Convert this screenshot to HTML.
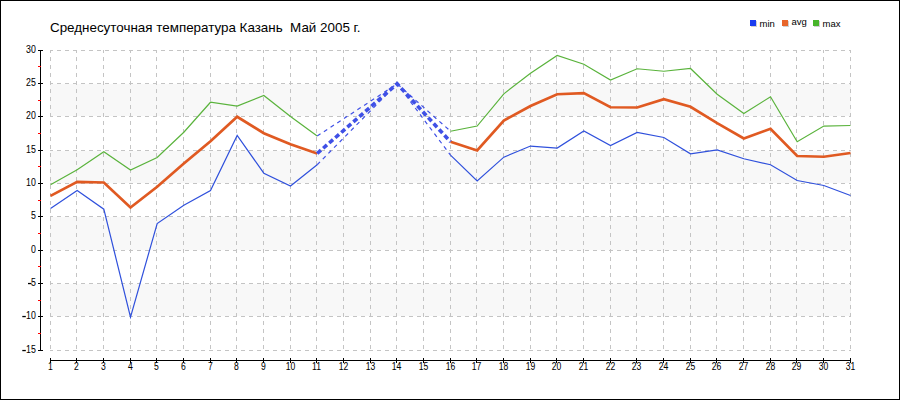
<!DOCTYPE html>
<html><head><meta charset="utf-8"><style>
html,body{margin:0;padding:0;background:#fff;width:900px;height:400px;overflow:hidden}
svg{display:block}
</style></head><body>
<svg width="900" height="400" viewBox="0 0 900 400">
<rect x="50" y="84" width="801" height="32" fill="#f8f8f8"/>
<rect x="50" y="151" width="801" height="32" fill="#f8f8f8"/>
<rect x="50" y="217" width="801" height="33" fill="#f8f8f8"/>
<rect x="50" y="284" width="801" height="32" fill="#f8f8f8"/>
<path d="M50 50.5H851 M50 83.5H851 M50 116.5H851 M50 150.5H851 M50 183.5H851 M50 216.5H851 M50 250.5H851 M50 283.5H851 M50 316.5H851 M50 350.5H851 M50.5 50V351 M76.5 50V351 M103.5 50V351 M130.5 50V351 M156.5 50V351 M183.5 50V351 M210.5 50V351 M236.5 50V351 M263.5 50V351 M290.5 50V351 M316.5 50V351 M343.5 50V351 M370.5 50V351 M396.5 50V351 M423.5 50V351 M450.5 50V351 M476.5 50V351 M503.5 50V351 M530.5 50V351 M556.5 50V351 M583.5 50V351 M610.5 50V351 M636.5 50V351 M663.5 50V351 M690.5 50V351 M716.5 50V351 M743.5 50V351 M770.5 50V351 M796.5 50V351 M823.5 50V351 M850.5 50V351" stroke="#c4c4c4" stroke-width="1" stroke-dasharray="4 4" stroke-dashoffset="1" fill="none" shape-rendering="crispEdges"/>
<path d="M40.5 50V351 M38 50.5H43 M38 83.5H43 M38 116.5H43 M38 150.5H43 M38 183.5H43 M38 216.5H43 M38 250.5H43 M38 283.5H43 M38 316.5H43 M38 350.5H43 M50 360.5H851 M50.5 358V363 M76.5 358V363 M103.5 358V363 M130.5 358V363 M156.5 358V363 M183.5 358V363 M210.5 358V363 M236.5 358V363 M263.5 358V363 M290.5 358V363 M316.5 358V363 M343.5 358V363 M370.5 358V363 M396.5 358V363 M423.5 358V363 M450.5 358V363 M476.5 358V363 M503.5 358V363 M530.5 358V363 M556.5 358V363 M583.5 358V363 M610.5 358V363 M636.5 358V363 M663.5 358V363 M690.5 358V363 M716.5 358V363 M743.5 358V363 M770.5 358V363 M796.5 358V363 M823.5 358V363 M850.5 358V363" stroke="#000" stroke-width="1" fill="none" shape-rendering="crispEdges"/>
<path d="M38 66.5H41 M38 100.5H41 M38 133.5H41 M38 166.5H41 M38 200.5H41 M38 233.5H41 M38 266.5H41 M38 300.5H41 M38 333.5H41" stroke="#f00" stroke-width="1" fill="none" shape-rendering="crispEdges"/>
<g font-family="Liberation Sans, sans-serif" font-size="10" fill="#000" stroke="#000" stroke-width="0.05"><text transform="translate(35.8,52.8) scale(0.88,1)" text-anchor="end">30</text><text transform="translate(35.8,85.8) scale(0.88,1)" text-anchor="end">25</text><text transform="translate(35.8,118.8) scale(0.88,1)" text-anchor="end">20</text><text transform="translate(35.8,152.8) scale(0.88,1)" text-anchor="end">15</text><text transform="translate(35.8,185.8) scale(0.88,1)" text-anchor="end">10</text><text transform="translate(35.8,218.8) scale(0.88,1)" text-anchor="end">5</text><text transform="translate(35.8,252.8) scale(0.88,1)" text-anchor="end">0</text><text transform="translate(35.8,285.8) scale(0.88,1)" text-anchor="end">5</text><rect x="28" y="282.9" width="3.5" height="1.3" stroke="none"/><text transform="translate(35.8,318.8) scale(0.88,1)" text-anchor="end">10</text><rect x="22.3" y="315.9" width="3.5" height="1.3" stroke="none"/><text transform="translate(35.8,352.8) scale(0.88,1)" text-anchor="end">15</text><rect x="22.3" y="349.9" width="3.5" height="1.3" stroke="none"/><text transform="translate(50.50,370) scale(0.86,1)" text-anchor="middle" font-size="10">1</text><text transform="translate(76.50,370) scale(0.86,1)" text-anchor="middle" font-size="10">2</text><text transform="translate(103.50,370) scale(0.86,1)" text-anchor="middle" font-size="10">3</text><text transform="translate(130.50,370) scale(0.86,1)" text-anchor="middle" font-size="10">4</text><text transform="translate(156.50,370) scale(0.86,1)" text-anchor="middle" font-size="10">5</text><text transform="translate(183.50,370) scale(0.86,1)" text-anchor="middle" font-size="10">6</text><text transform="translate(210.50,370) scale(0.86,1)" text-anchor="middle" font-size="10">7</text><text transform="translate(236.50,370) scale(0.86,1)" text-anchor="middle" font-size="10">8</text><text transform="translate(263.50,370) scale(0.86,1)" text-anchor="middle" font-size="10">9</text><text transform="translate(290.50,370) scale(0.86,1)" text-anchor="middle" font-size="10">10</text><text transform="translate(316.50,370) scale(0.86,1)" text-anchor="middle" font-size="10">11</text><text transform="translate(343.50,370) scale(0.86,1)" text-anchor="middle" font-size="10">12</text><text transform="translate(370.50,370) scale(0.86,1)" text-anchor="middle" font-size="10">13</text><text transform="translate(396.50,370) scale(0.86,1)" text-anchor="middle" font-size="10">14</text><text transform="translate(423.50,370) scale(0.86,1)" text-anchor="middle" font-size="10">15</text><text transform="translate(450.50,370) scale(0.86,1)" text-anchor="middle" font-size="10">16</text><text transform="translate(476.50,370) scale(0.86,1)" text-anchor="middle" font-size="10">17</text><text transform="translate(503.50,370) scale(0.86,1)" text-anchor="middle" font-size="10">18</text><text transform="translate(530.50,370) scale(0.86,1)" text-anchor="middle" font-size="10">19</text><text transform="translate(556.50,370) scale(0.86,1)" text-anchor="middle" font-size="10">20</text><text transform="translate(583.50,370) scale(0.86,1)" text-anchor="middle" font-size="10">21</text><text transform="translate(610.50,370) scale(0.86,1)" text-anchor="middle" font-size="10">22</text><text transform="translate(636.50,370) scale(0.86,1)" text-anchor="middle" font-size="10">23</text><text transform="translate(663.50,370) scale(0.86,1)" text-anchor="middle" font-size="10">24</text><text transform="translate(690.50,370) scale(0.86,1)" text-anchor="middle" font-size="10">25</text><text transform="translate(716.50,370) scale(0.86,1)" text-anchor="middle" font-size="10">26</text><text transform="translate(743.50,370) scale(0.86,1)" text-anchor="middle" font-size="10">27</text><text transform="translate(770.50,370) scale(0.86,1)" text-anchor="middle" font-size="10">28</text><text transform="translate(796.50,370) scale(0.86,1)" text-anchor="middle" font-size="10">29</text><text transform="translate(823.50,370) scale(0.86,1)" text-anchor="middle" font-size="10">30</text><text transform="translate(850.50,370) scale(0.86,1)" text-anchor="middle" font-size="10">31</text></g>
<polyline points="50.50,184.77 77.17,169.83 103.83,151.83 130.50,170.03 157.17,157.50 183.83,132.23 210.50,102.23 237.17,106.03 263.83,95.50 290.50,116.50 317.17,136.03" fill="none" stroke="#5ab33c" stroke-width="1.2" stroke-linejoin="miter"/>
<polyline points="450.50,131.23 477.17,126.03 503.83,93.83 530.50,73.17 557.17,55.50 583.83,64.23 610.50,80.03 637.17,68.77 663.83,71.23 690.50,68.50 717.17,94.23 743.83,113.50 770.50,96.77 797.17,141.77 823.83,126.03 850.50,125.50" fill="none" stroke="#5ab33c" stroke-width="1.2" stroke-linejoin="miter"/>
<polyline points="50.50,208.50 77.17,190.50 103.83,209.17 130.50,317.17 157.17,223.50 183.83,205.17 210.50,190.50 237.17,135.50 263.83,173.17 290.50,186.03 317.17,164.77" fill="none" stroke="#2f50dc" stroke-width="1.2" stroke-linejoin="miter"/>
<polyline points="450.50,155.17 477.17,180.97 503.83,157.17 530.50,146.03 557.17,148.03 583.83,131.03 610.50,145.50 637.17,132.50 663.83,137.50 690.50,153.83 717.17,149.83 743.83,158.77 770.50,164.77 797.17,180.50 823.83,185.50 850.50,195.50" fill="none" stroke="#2f50dc" stroke-width="1.2" stroke-linejoin="miter"/>
<polyline points="50.50,195.83 77.17,181.83 103.83,182.50 130.50,207.50 157.17,186.77 183.83,163.50 210.50,141.17 237.17,116.77 263.83,133.17 290.50,144.23 317.17,153.50" fill="none" stroke="#e05a22" stroke-width="2.7" stroke-linejoin="miter"/>
<polyline points="450.50,141.83 477.17,150.50 503.83,120.50 530.50,106.03 557.17,94.23 583.83,93.17 610.50,107.23 637.17,107.50 663.83,99.23 690.50,106.77 717.17,123.17 743.83,138.50 770.50,128.77 797.17,156.03 823.83,156.77 850.50,152.97" fill="none" stroke="#e05a22" stroke-width="2.7" stroke-linejoin="miter"/>
<polyline points="317.17,136.03 397.17,83.83 450.50,131.23" fill="none" stroke="#3f50e6" stroke-width="1.2" stroke-dasharray="4 4"/>
<polyline points="317.17,164.77 397.17,83.83 450.50,155.17" fill="none" stroke="#3f50e6" stroke-width="1.2" stroke-dasharray="4 4"/>
<polyline points="317.17,153.50 397.17,83.83 450.50,141.83" fill="none" stroke="#3f50e6" stroke-width="3.6" stroke-dasharray="5 3"/>
<text x="50" y="32.4" font-family="Liberation Sans, sans-serif" font-size="13.4" fill="#000" xml:space="preserve">Среднесуточная температура Казань  Май 2005 г.</text>
<rect x="751" y="21" width="6" height="6" fill="#d0d0d0"/><rect x="750" y="20" width="6" height="6" fill="#1a3cf0"/><text x="759.5" y="26.5" font-family="Liberation Sans, sans-serif" font-size="9.5" fill="#000">min</text><rect x="783" y="21" width="6" height="6" fill="#d0d0d0"/><rect x="782" y="20" width="6" height="6" fill="#e8662a"/><text x="791.5" y="25.3" font-family="Liberation Sans, sans-serif" font-size="9.5" fill="#000">avg</text><rect x="814" y="21" width="6" height="6" fill="#d0d0d0"/><rect x="813" y="20" width="6" height="6" fill="#47b52a"/><text x="822.5" y="26.5" font-family="Liberation Sans, sans-serif" font-size="9.5" fill="#000">max</text>
<rect x="0.5" y="0.5" width="899" height="399" fill="none" stroke="#000" stroke-width="1" shape-rendering="crispEdges"/>
</svg>
</body></html>
